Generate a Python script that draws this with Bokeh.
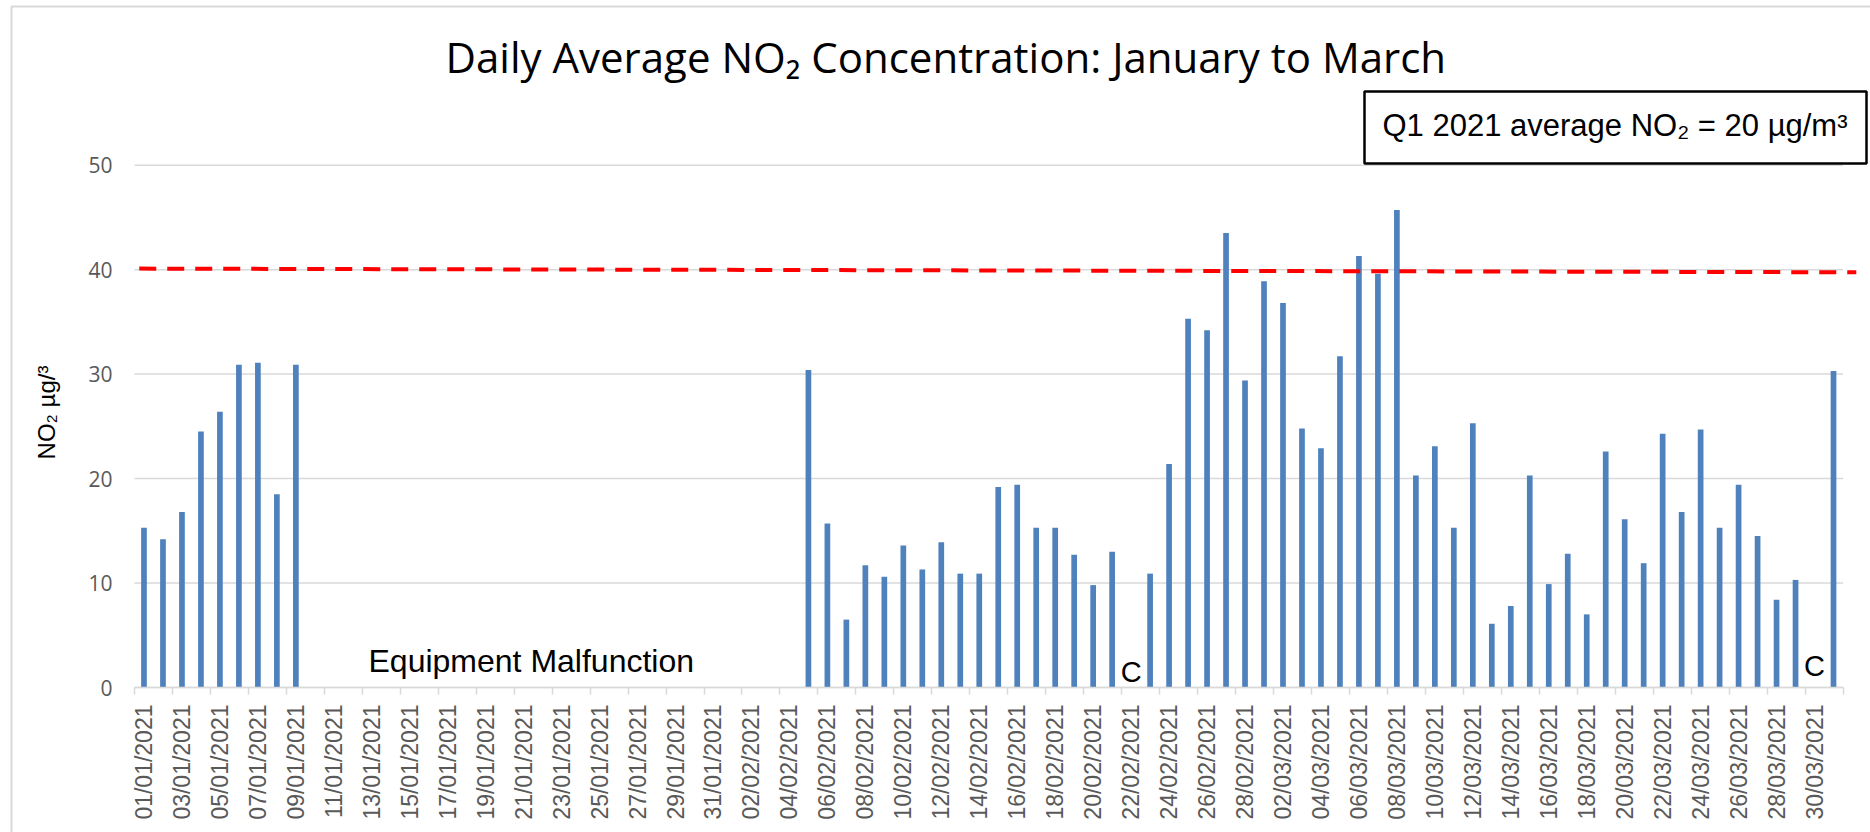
import math
import pandas as pd
from bokeh.plotting import figure
from bokeh.models import (ColumnDataSource, LinearAxis, FixedTicker, Label,
                          BoxAnnotation, Range1d)
from bokeh.core.properties import value
from bokeh.embed import file_html
from bokeh.resources import INLINE

# ---------------- data ----------------
dates = pd.date_range("2021-01-01", "2021-03-31").strftime("%d/%m/%Y").tolist()

jan_values = [15.3, 14.2, 16.8, 24.5, 26.4, 30.9, 31.1, 18.5, 30.9] + [None] * 22
feb_values = [None] * 4 + [30.4, 15.7, 6.5, 11.7, 10.6, 13.6, 11.3, 13.9, 10.9, 10.9,
                           19.2, 19.4, 15.3, 15.3, 12.7, 9.8, 13.0, None, 10.9, 21.4,
                           35.3, 34.2, 43.5, 29.4]
mar_values = [38.9, 36.8, 24.8, 22.9, 31.7, 41.3, 39.6, 45.7, 20.3, 23.1,
              15.3, 25.3, 6.1, 7.8, 20.3, 9.9, 12.8, 7.0, 22.6, 16.1,
              11.9, 24.3, 16.8, 24.7, 15.3, 19.4, 14.5, 8.4, 10.3, None, 30.3]
no2_values = jan_values + feb_values + mar_values
assert len(no2_values) == len(dates) == 90

y_ticks = [0, 10, 20, 30, 40, 50]
limit_line_values = [40.1, 39.75]          # red dashed limit line (start, end)
c_dates = ["22/02/2021", "30/03/2021"]      # days flagged "C"
c_heights = [1.5, 2.1]

title_text = "Daily Average NO\u2082 Concentration: January to March"
box_text = "Q1 2021 average NO\u2082 = 20 \u00b5g/m\u00b3"
gap_text = "Equipment Malfunction"
y_label_text = "NO\u2082 \u00b5g/\u00b3"

# ---------------- layout (pixels) ----------------
W, H = 1870, 832
n = len(dates)
plot_left_px = 134.0        # x pixel where the first category starts
plot_w_px = 1708.5          # width of the 90 categories
px_day = plot_w_px / n
zero_px = 687.0             # y pixel of value 0
top50_px = 164.7            # y pixel of value 50
px_unit = (zero_px - top50_px) / 50.0

x_start = -0.5 - plot_left_px / px_day
x_end = x_start + W / px_day
y_start = -(H - zero_px) / px_unit
y_end = zero_px / px_unit

p = figure(width=W, height=H, output_backend="svg", toolbar_location=None,
           title=None,
           x_range=Range1d(x_start, x_end), y_range=Range1d(y_start, y_end),
           min_border_left=0, min_border_right=0, min_border_top=0,
           min_border_bottom=0, background_fill_color="white",
           border_fill_color="white", outline_line_color=None)

p.xgrid.visible = False
p.ygrid.visible = False

# y axis placed at the start of the categories
ya = p.yaxis[0]
ya.fixed_location = -0.5
ya.bounds = (0, 50)
ya.ticker = FixedTicker(ticks=y_ticks)
ya.axis_line_color = None
ya.major_tick_line_color = None
ya.major_tick_out = 0
ya.major_tick_in = 0
ya.minor_tick_line_color = None
ya.major_label_text_font = "Open Sans"
ya.major_label_text_font_size = "21px"
ya.major_label_text_color = "#595959"
ya.major_label_standoff = 22

# horizontal grid lines across the category area only
p.segment(x0=[-0.5] * len(y_ticks), x1=[n - 0.5] * len(y_ticks), y0=y_ticks, y1=y_ticks,
          line_color="#D9D9D9", line_width=1.5, level="underlay")

# x axis at value 0: tick marks at category-pair boundaries
boundaries = [k - 0.5 for k in range(0, n + 1, 2)]
xa = p.xaxis[0]
xa.fixed_location = 0
xa.bounds = (-0.5, n - 0.5)
xa.ticker = FixedTicker(ticks=boundaries)
xa.major_label_overrides = {b: "" for b in boundaries}
xa.major_label_text_font_size = "0px"
xa.major_label_standoff = 0
xa.major_tick_out = 7
xa.major_tick_in = 0
xa.major_tick_line_color = "#D9D9D9"
xa.major_tick_line_width = 1.5
xa.minor_tick_line_color = None
xa.axis_line_color = "#D9D9D9"
xa.axis_line_width = 1.5

# x labels: every other day
label_pos = list(range(0, n, 2))
label_axis = LinearAxis(ticker=FixedTicker(ticks=label_pos), bounds=(-0.5, n - 0.5),
                        fixed_location=0,
                        major_label_overrides={i: dates[i] for i in label_pos},
                        major_label_orientation=math.pi / 2,
                        axis_line_color=None, major_tick_line_color=None,
                        major_tick_out=0, major_tick_in=0,
                        minor_tick_line_color=None,
                        major_label_text_font="Liberation Sans",
                        major_label_text_font_size="23px",
                        major_label_text_color="#595959",
                        major_label_standoff=17)
p.add_layout(label_axis, "below")

# bars
bx = [i for i, v in enumerate(no2_values) if v is not None]
bt = [v for v in no2_values if v is not None]
src = ColumnDataSource(dict(x=bx, top=bt))
p.vbar(x="x", top="top", width=0.3, source=src, fill_color="#4F81BD", line_color=None)

# limit line
p.line(x=[-0.25, n + 0.2], y=limit_line_values, line_color="#FF0000",
       line_width=4, line_dash="17 11")

# "C" flags
p.text(x=[dates.index(d) for d in c_dates], y=c_heights, text=["C"] * len(c_dates),
       text_font=value("Liberation Sans"), text_font_size="29px",
       text_align="center", text_baseline="alphabetic", text_color="black")

# ---------------- annotations (screen px from bottom-left) ----------------
p.add_layout(Label(x=445, y=776, x_units="screen", y_units="screen", text=title_text,
                   text_font="Open Sans", text_font_size="42px", text_color="black",
                   text_align="left", text_baseline="alphabetic"))

p.add_layout(BoxAnnotation(left=1364, right=1866, top=741, bottom=669,
                           left_units="screen", right_units="screen",
                           top_units="screen", bottom_units="screen",
                           fill_color=None, fill_alpha=0, line_color="black",
                           line_alpha=1.0, line_width=2.5))
p.add_layout(Label(x=1382, y=707, x_units="screen", y_units="screen", text=box_text,
                   text_font="Liberation Sans", text_font_size="31px",
                   text_color="black", text_align="left", text_baseline="alphabetic"))

p.add_layout(Label(x=368, y=172, x_units="screen", y_units="screen", text=gap_text,
                   text_font="Liberation Sans", text_font_size="32px",
                   text_color="black", text_align="left", text_baseline="alphabetic"))

p.add_layout(Label(x=46, y=420, x_units="screen", y_units="screen", text=y_label_text,
                   angle=math.pi / 2, text_font="Liberation Sans",
                   text_font_size="24px", text_color="black",
                   text_align="center", text_baseline="middle"))

# outer chart border
p.add_layout(BoxAnnotation(left=11, right=5000, top=826, bottom=-300,
                           left_units="screen", right_units="screen",
                           top_units="screen", bottom_units="screen",
                           fill_color=None, fill_alpha=0, line_color="#D9D9D9",
                           line_alpha=1.0, line_width=2, level="underlay"))

open("out.html", "w").write(file_html(p, INLINE))
